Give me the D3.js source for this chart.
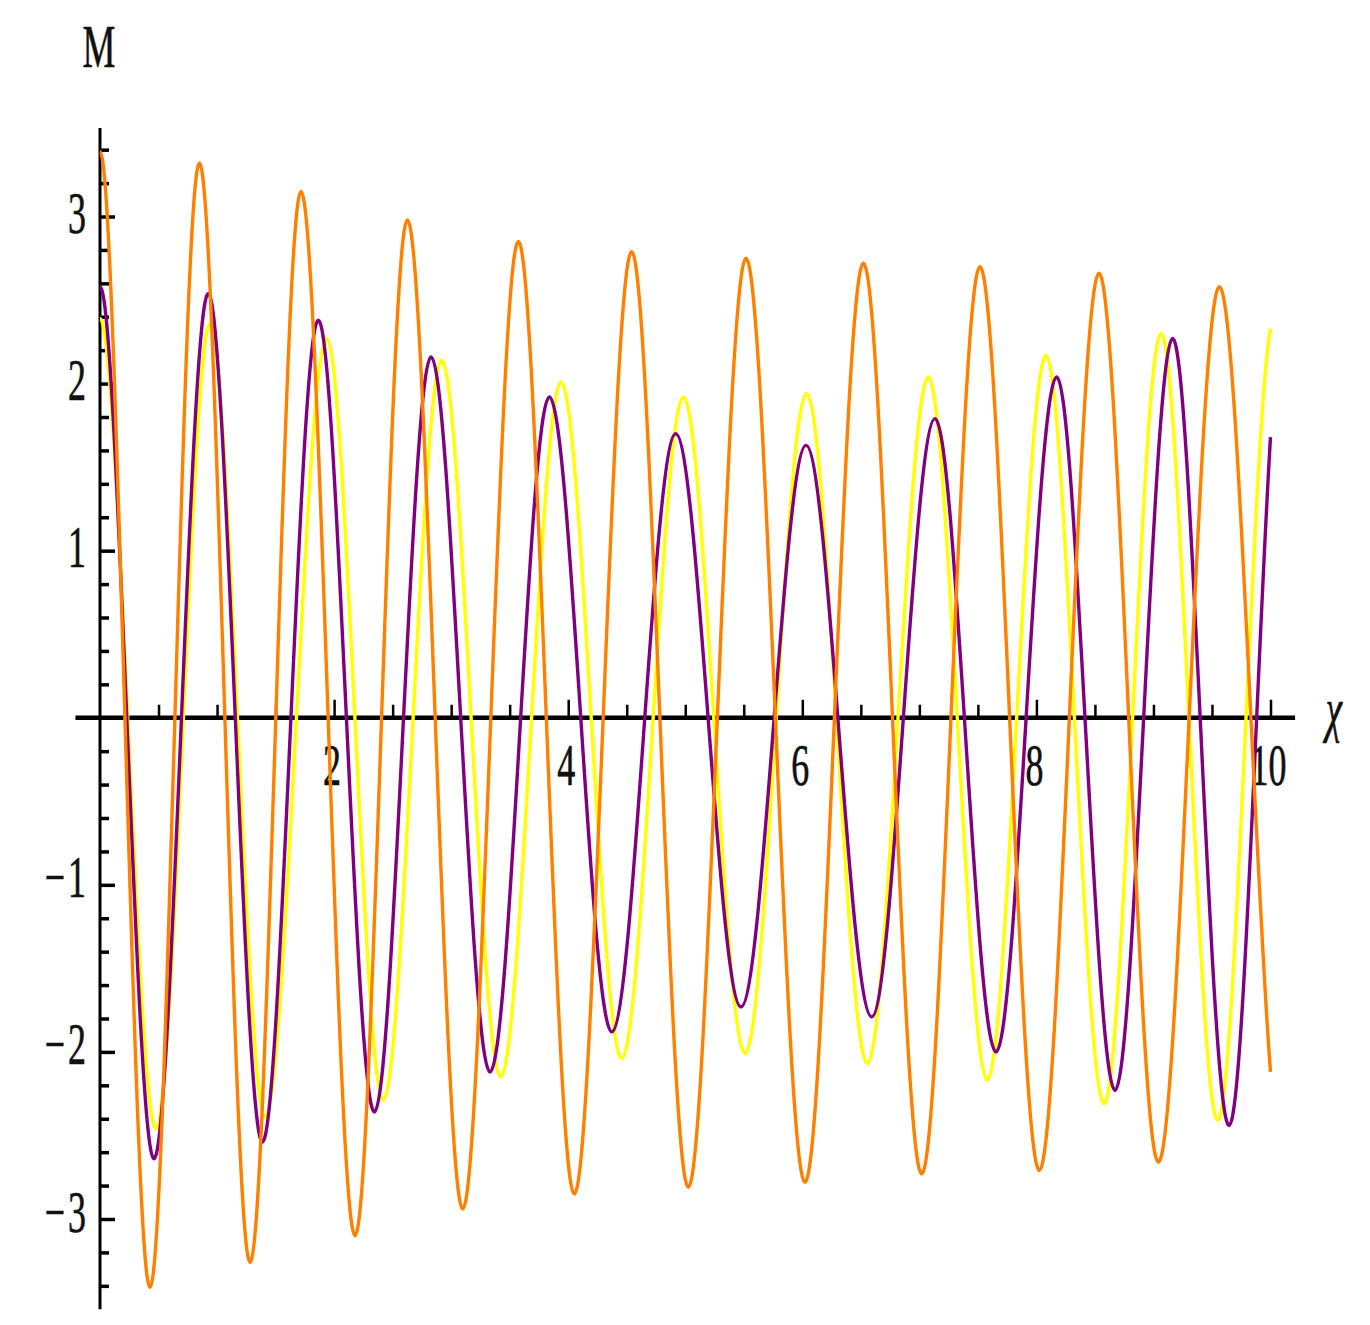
<!DOCTYPE html>
<html>
<head>
<meta charset="utf-8">
<script src="https://cdn.jsdelivr.net/npm/d3@7"></script>
<style>
  html, body { margin: 0; padding: 0; background: #ffffff; }
  svg { display: block; }
</style>
</head>
<body>
<div id="chart"></div>
<script>
// ---------------- data ----------------
// Orange series: start, alternating troughs/peaks, end value at x = 10
const orangeX = [0, 0.427, 0.849, 1.282, 1.717, 2.179, 2.626, 3.099, 3.574, 4.052, 4.542, 5.026, 5.519, 6.023, 6.522, 7.02, 7.518, 8.025, 8.535, 9.042, 9.563, 10];
const orangeY = [3.39, -3.41, 3.32, -3.26, 3.15, -3.10, 2.98, -2.94, 2.85, -2.85, 2.79, -2.81, 2.75, -2.78, 2.72, -2.73, 2.70, -2.71, 2.66, -2.66, 2.58, -2.12];

// Purple series
const purpleX = [0, 0.461, 0.925, 1.387, 1.865, 2.344, 2.828, 3.332, 3.839, 4.372, 4.918, 5.476, 6.032, 6.593, 7.134, 7.655, 8.173, 8.672, 9.164, 9.646, 10];
const purpleY = [2.58, -2.64, 2.54, -2.54, 2.38, -2.36, 2.16, -2.12, 1.92, -1.88, 1.70, -1.73, 1.63, -1.79, 1.79, -2.00, 2.04, -2.23, 2.27, -2.44, 1.68];

// Yellow series
const yellowX = [0, 0.478, 0.94, 1.41, 1.937, 2.42, 2.919, 3.423, 3.939, 4.457, 4.984, 5.511, 6.037, 6.556, 7.077, 7.581, 8.082, 8.578, 9.065, 9.549, 10];
const yellowY = [2.39, -2.46, 2.36, -2.39, 2.27, -2.29, 2.14, -2.15, 2.01, -2.04, 1.92, -2.01, 1.94, -2.07, 2.04, -2.17, 2.17, -2.31, 2.30, -2.41, 2.33];

// Axis ticks and labels
const xMajorTicks = [2, 4, 6, 8, 10];
const xMinorTicks = [0.5, 1, 1.5, 2.5, 3, 3.5, 4.5, 5, 5.5, 6.5, 7, 7.5, 8.5, 9, 9.5];
const yMajorTicks = [-3, -2, -1, 1, 2, 3];
const yMinorTicks = [-3.4, -3.2, -2.8, -2.6, -2.4, -2.2, -1.8, -1.6, -1.4, -1.2, -0.8, -0.6, -0.4, -0.2,
                     0.2, 0.4, 0.6, 0.8, 1.2, 1.4, 1.6, 1.8, 2.2, 2.4, 2.6, 2.8, 3.2, 3.4];
const xAxisLabel = "\u03C7";
const yAxisLabel = "M";

// ---------------- layout ----------------
const W = 1370, H = 1325;
const FONT = "'Liberation Serif', 'Times New Roman', Times, serif";
const STRETCH = 1.63; // vertical stretch of the text in the reference

const x = d3.scaleLinear().domain([0, 10]).range([100, 1270.5]);
const y = d3.scaleLinear().domain([-3, 3]).range([1219, 216.5]);

const svg = d3.select("#chart").append("svg")
  .attr("width", W).attr("height", H)
  .attr("viewBox", `0 0 ${W} ${H}`);
svg.append("rect").attr("width", W).attr("height", H).attr("fill", "#ffffff");

// Curve: horizontal tangents at the extrema (each interior point and the start),
// a sloped tangent at the final point (scaled secant).
function extremaCurve(endRatio) {
  return function(context) {
    let pts;
    return {
      areaStart() {}, areaEnd() {},
      lineStart() { pts = []; },
      point(px, py) { pts.push([+px, +py]); },
      lineEnd() {
        if (!pts.length) return;
        context.moveTo(pts[0][0], pts[0][1]);
        const n = pts.length;
        for (let i = 0; i < n - 1; i++) {
          const [x0, y0] = pts[i], [x1, y1] = pts[i + 1];
          const h = x1 - x0;
          const m1 = (i === n - 2) ? endRatio * (y1 - y0) / h : 0;
          context.bezierCurveTo(x0 + h / 3, y0, x1 - h / 3, y1 - m1 * h / 3, x1, y1);
        }
      }
    };
  };
}

// ---------------- axes ----------------
const axes = svg.append("g");

// y axis line
axes.append("line")
  .attr("x1", x(0)).attr("x2", x(0))
  .attr("y1", y(3.53)).attr("y2", y(-3.54))
  .attr("stroke", "#000").attr("stroke-width", 3);

// x axis line
axes.append("line")
  .attr("x1", x(-0.21)).attr("x2", x(10.21))
  .attr("y1", y(0)).attr("y2", y(0))
  .attr("stroke", "#000").attr("stroke-width", 4.5);

function styleAxis(g, width) {
  g.select(".domain").remove();
  g.selectAll(".tick line").attr("stroke", "#000").attr("stroke-width", width);
  g.selectAll(".tick text").remove();
}

// y ticks (pointing right)
axes.append("g").attr("transform", `translate(${x(0)},0)`)
  .call(d3.axisRight(y).tickValues(yMinorTicks).tickSize(9).tickFormat(""))
  .call(g => styleAxis(g, 3.5));
axes.append("g").attr("transform", `translate(${x(0)},0)`)
  .call(d3.axisRight(y).tickValues(yMajorTicks).tickSize(15).tickFormat(""))
  .call(g => styleAxis(g, 3.5));

// x ticks (pointing up)
axes.append("g").attr("transform", `translate(0,${y(0)})`)
  .call(d3.axisTop(x).tickValues(xMinorTicks).tickSize(13).tickFormat(""))
  .call(g => styleAxis(g, 2.5));
axes.append("g").attr("transform", `translate(0,${y(0)})`)
  .call(d3.axisTop(x).tickValues(xMajorTicks).tickSize(18).tickFormat(""))
  .call(g => styleAxis(g, 2.5));

// ---------------- tick labels ----------------
const labels = svg.append("g")
  .attr("font-family", FONT)
  .attr("font-size", 36)
  .attr("fill", "#111111")
  .attr("stroke", "#111111")
  .attr("stroke-width", 0.4);

yMajorTicks.forEach(v => {
  const t = labels.append("text")
    .attr("text-anchor", "end")
    .attr("transform", `translate(86,${y(v) + (v > 0 ? 16.5 : 12.5)}) scale(1,${STRETCH})`);
  if (v < 0) {
    t.append("tspan").text("\u2212");
    t.append("tspan").attr("dx", 3).text(String(-v));
  } else {
    t.text(String(v));
  }
});

xMajorTicks.forEach(v => {
  labels.append("text")
    .attr("text-anchor", "middle")
    .attr("transform", `translate(${x(v) - 2},785) scale(1,${STRETCH})`)
    .text(String(v));
});

// axis titles
svg.append("text")
  .attr("font-family", FONT).attr("font-size", 37).attr("fill", "#111111")
  .attr("stroke", "#111111").attr("stroke-width", 0.4)
  .attr("text-anchor", "middle")
  .attr("transform", `translate(99,67) scale(1,${STRETCH})`)
  .text(yAxisLabel);

svg.append("text")
  .attr("font-family", FONT).attr("font-size", 37).attr("fill", "#111111")
  .attr("stroke", "#111111").attr("stroke-width", 0.4)
  .attr("font-style", "italic")
  .attr("text-anchor", "middle")
  .attr("transform", `translate(1334,730) scale(1,${STRETCH})`)
  .text(xAxisLabel);

// ---------------- series ----------------
const series = [
  { name: "yellow", xs: yellowX, ys: yellowY, color: "#ffff00", endRatio: 0.35 },
  { name: "purple", xs: purpleX, ys: purpleY, color: "#800080", endRatio: 1.0 },
  { name: "orange", xs: orangeX, ys: orangeY, color: "#ff8000", endRatio: 0.85 }
];

const plot = svg.append("g");
series.forEach(s => {
  const pts = s.xs.map((xv, i) => [xv, s.ys[i]]);
  const line = d3.line()
    .x(d => x(d[0]))
    .y(d => y(d[1]))
    .curve(extremaCurve(s.endRatio));
  plot.append("path")
    .datum(pts)
    .attr("class", "series-" + s.name)
    .attr("fill", "none")
    .attr("stroke", s.color)
    .attr("stroke-width", 3.4)
    .attr("stroke-linejoin", "round")
    .attr("d", line);
});
</script>
</body>
</html>
